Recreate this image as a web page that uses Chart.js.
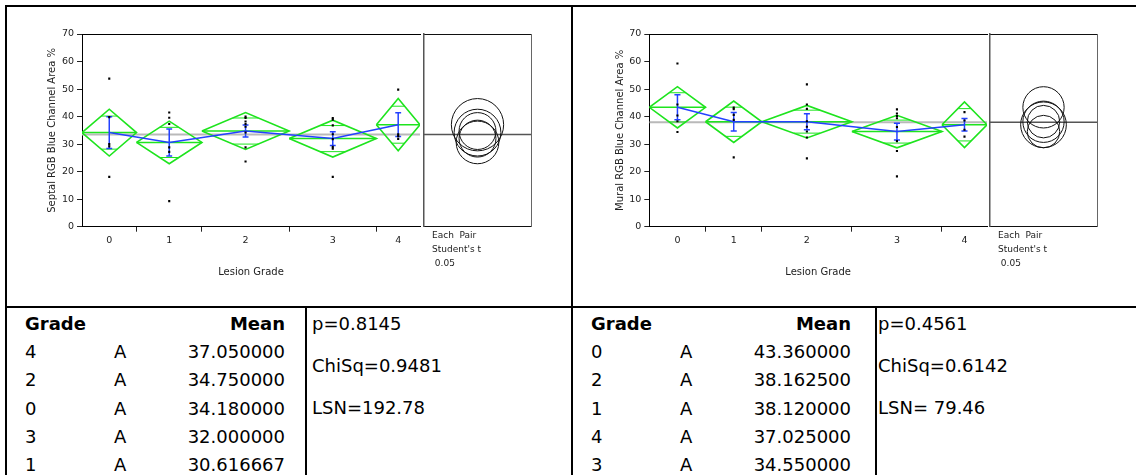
<!DOCTYPE html>
<html>
<head>
<meta charset="utf-8">
<script src="https://cdn.jsdelivr.net/npm/chart.js@4.4.1/dist/chart.umd.min.js"></script>
<style>
html, body { margin: 0; padding: 0; background: #fff; }
#page { position: relative; width: 1136px; height: 475px; overflow: hidden; font-family: 'DejaVu Sans', sans-serif; }
canvas { position: absolute; }
.rule { position: absolute; background: #000; }
.t { position: absolute; font-size: 18px; line-height: 22px; color: #000; white-space: pre; }
.b { font-weight: bold; }
.r { text-align: right; }
.note { position: absolute; font-size: 9px; line-height: 14px; color: #222; white-space: pre; }
</style>
</head>
<body>
<div id="page">
	<canvas id="septal" width="416" height="290" style="left:8px;top:8px"></canvas>
	<canvas id="septalCircles" width="116" height="228" style="left:420px;top:8px"></canvas>
	<canvas id="mural" width="413" height="290" style="left:578px;top:8px"></canvas>
	<canvas id="muralCircles" width="116" height="228" style="left:986px;top:8px"></canvas>
	<div class="note" style="left:432px;top:228px">Each  Pair
Student's t
 0.05</div>
	<div class="note" style="left:998px;top:228px">Each  Pair
Student's t
 0.05</div>
	<div class="rule" style="left:5px;top:5px;width:1131px;height:2px"></div>
	<div class="rule" style="left:5px;top:5px;width:2px;height:470px"></div>
	<div class="rule" style="left:571px;top:5px;width:2px;height:470px"></div>
	<div class="rule" style="left:5px;top:306px;width:1131px;height:2px"></div>
	<div class="rule" style="left:305px;top:306px;width:2px;height:169px"></div>
	<div class="rule" style="left:875px;top:306px;width:2px;height:169px"></div>
	<div id="tables"></div>
</div>
<script>
// values
const grades = ['0', '1', '2', '3', '4'];

const septalPoints = [
	[53.8, 39.8, 30.0, 29.2, 18.1],
	[41.5, 39.6, 37.3, 28.8, 27.2, 9.3],
	[40.0, 39.5, 38.2, 37.3, 36.3, 34.2, 28.8, 23.7],
	[39.5, 38.9, 36.8, 33.6, 31.8, 29.0, 28.3, 18.1],
	[49.8, 33.6, 32.9, 31.9],
];
const septalMeans = [34.18, 30.616667, 34.75, 32.0, 37.05];
const septalCI = [8.5, 7.75, 6.7, 6.7, 9.5];
const septalSE = [5.75, 4.9, 2.2, 2.5, 4.3];
const septalGrandMean = 33.45;

const muralPoints = [
	[59.3, 44.4, 40.4, 38.3, 34.4],
	[43.3, 42.7, 40.6, 38.8, 25.2],
	[51.7, 44.4, 42.8, 38.3, 36.3, 34.6, 32.4, 24.8],
	[42.6, 41.1, 40.2, 39.4, 36.2, 31.1, 27.5, 18.3],
	[41.6, 38.6, 35.2, 32.7],
];
const muralMeans = [43.36, 38.12, 38.1625, 34.55, 37.025];
const muralCI = [7.5, 7.5, 5.9, 5.9, 8.3];
const muralSE = [4.55, 3.4, 2.9, 3.05, 2.25];
const muralGrandMean = 37.9;

const septalRankGrades = ['4', '2', '0', '3', '1'];
const septalRankMeans = ['37.050000', '34.750000', '34.180000', '32.000000', '30.616667'];
const septalStats = ['p=0.8145', 'ChiSq=0.9481', 'LSN=192.78'];
const muralRankGrades = ['0', '2', '1', '4', '3'];
const muralRankMeans = ['43.360000', '38.162500', '38.120000', '37.025000', '34.550000'];
const muralStats = ['p=0.4561', 'ChiSq=0.6142', 'LSN= 79.46'];

const TICK_FONT = { family: "'DejaVu Sans', sans-serif", size: 9.5 };
const TITLE_FONT = { family: "'DejaVu Sans', sans-serif", size: 10 };
const TXT = '#222';
const GREEN = 'rgb(30,228,30)';
const BLUE = 'rgb(35,65,255)';
const NONE = 'rgba(0,0,0,0)';

// turns a list of polylines into one dataset with gaps between them
function segments(lines) {
	const out = [];
	lines.forEach((pts) => {
		pts.forEach(([x, y]) => out.push({ x, y }));
		out.push({ x: pts[pts.length - 1][0], y: null });
	});
	return out;
}

function lineSet(data, color, width) {
	return { data, showLine: true, borderColor: color, borderWidth: width, pointRadius: 0, spanGaps: false };
}

function mainPlot(id, points, means, ci, se, grandMean, yTitle, yAxisWidth, yTitlePad) {
	const bounds = [0];
	points.forEach((p) => bounds.push(bounds[bounds.length - 1] + p.length));
	const total = bounds[bounds.length - 1];
	const centers = points.map((_, i) => (bounds[i] + bounds[i + 1]) / 2);
	const tickValues = bounds.slice(1, -1).concat(centers).sort((a, b) => a - b);

	const outline = [], meanMarks = [], overlap = [], bars = [];
	const cap = 0.27;
	points.forEach((_, i) => {
		const x0 = bounds[i], x1 = bounds[i + 1], xc = centers[i];
		const m = means[i], h = ci[i];
		outline.push([[x0, m], [xc, m + h], [x1, m], [xc, m - h], [x0, m]]);
		meanMarks.push([[x0, m], [x1, m]]);
		const k = h / Math.SQRT2;
		const hw = (x1 - x0) / 2 * (1 - 1 / Math.SQRT2);
		overlap.push([[xc - hw, m + k], [xc + hw, m + k]]);
		overlap.push([[xc - hw, m - k], [xc + hw, m - k]]);
		bars.push([[xc, m - se[i]], [xc, m + se[i]]]);
		bars.push([[xc - cap, m + se[i]], [xc + cap, m + se[i]]]);
		bars.push([[xc - cap, m - se[i]], [xc + cap, m - se[i]]]);
	});

	const dots = [];
	points.forEach((p, i) => p.forEach((v) => dots.push({ x: centers[i], y: v })));

	const datasets = [
		{ data: dots, pointStyle: 'rect', pointRadius: 1.5, pointBorderWidth: 0, backgroundColor: '#000', borderColor: '#000' },
		lineSet(segments(bars), BLUE, 1.5),
		lineSet(centers.map((x, i) => ({ x, y: means[i] })), BLUE, 1.5),
		lineSet(segments(overlap), GREEN, 1),
		lineSet(segments(meanMarks), GREEN, 1.5),
		lineSet(segments(outline), GREEN, 1.6),
		lineSet([{ x: 0, y: grandMean }, { x: total, y: grandMean }], 'rgb(185,185,185)', 2),
	];

	new Chart(document.getElementById(id), {
		type: 'scatter',
		data: { datasets },
		options: {
			responsive: false,
			animation: false,
			events: [],
			layout: { padding: { top: 26, left: 0, right: 0, bottom: 0 } },
			plugins: { legend: { display: false }, tooltip: { enabled: false } },
			scales: {
				x: {
					type: 'linear', position: 'bottom', min: 0, max: total,
					afterFit: (s) => { s.height = 71.3; },
					afterBuildTicks: (s) => { s.ticks = tickValues.map((v) => ({ value: v })); },
					ticks: {
						autoSkip: false, maxRotation: 0, padding: 3, color: TXT, font: TICK_FONT,
						callback: (v) => { const i = centers.indexOf(v); return i >= 0 ? grades[i] : ''; },
					},
					grid: {
						drawOnChartArea: false, drawTicks: true, tickLength: 5,
						color: NONE,
						tickColor: (ctx) => (ctx.tick && centers.includes(ctx.tick.value) ? NONE : '#222'),
					},
					border: { color: '#000', width: 1 },
					title: { display: true, text: 'Lesion Grade', color: TXT, font: TITLE_FONT, padding: { top: 0, bottom: 20 } },
				},
				x2: {
					type: 'linear', position: 'top', min: 0, max: total,
					afterFit: (s) => { s.height = 0; },
					ticks: { display: false },
					grid: { drawOnChartArea: false, drawTicks: false, color: NONE },
					border: { color: '#000', width: 1 },
				},
				y: {
					type: 'linear', position: 'left', min: 0, max: 70,
					afterFit: (s) => { s.width = yAxisWidth; },
					ticks: { stepSize: 10, padding: 3, color: TXT, font: TICK_FONT },
					grid: { drawOnChartArea: false, tickLength: 5, tickColor: '#222' },
					border: { color: '#000', width: 1 },
					title: { display: true, text: yTitle, color: TXT, font: TITLE_FONT, padding: { top: yTitlePad, bottom: 0 } },
				},
			},
		},
	});
}

function circlePanel(id, means, ci, grandMean) {
	const hidden = (pos, axis) => ({
		type: 'linear', position: pos, min: 0, max: axis === 'x' ? 1 : 70,
		afterFit: (s) => { if (axis === 'x') s.height = 0; else s.width = 0; },
		ticks: { display: false },
		grid: { drawOnChartArea: false, drawTicks: false, color: NONE },
		border: { color: '#111', width: 1 },
	});
	const scales = {
		x: hidden('bottom', 'x'),
		x2: hidden('top', 'x'),
		y: hidden('left', 'y'),
		y2: hidden('right', 'y'),
	};
	scales.y.border = { color: '#555', width: 1.5 };
	scales.y2.border = { color: '#666', width: 1 };

	new Chart(document.getElementById(id), {
		type: 'scatter',
		data: {
			datasets: [
				{
					data: means.map((m) => ({ x: 0.5, y: m })),
					pointStyle: 'circle',
					pointRadius: (ctx) => {
						const y = ctx.chart.scales.y;
						return ci[ctx.dataIndex] * (y.getPixelForValue(0) - y.getPixelForValue(1));
					},
					borderColor: '#111',
					backgroundColor: NONE,
					borderWidth: 1,
				},
				lineSet([{ x: 0, y: grandMean }, { x: 1, y: grandMean }], '#555', 1.5),
			],
		},
		options: {
			responsive: false,
			animation: false,
			events: [],
			layout: { padding: { left: 4, right: 5, top: 26, bottom: 9.3 } },
			plugins: { legend: { display: false }, tooltip: { enabled: false } },
			scales,
		},
	});
}

function tableBlock(x0, rankGrades, rankMeans, stats) {
	const host = document.getElementById('tables');
	const add = (cls, left, top, text, width) => {
		const d = document.createElement('div');
		d.className = 't ' + cls;
		d.style.left = left + 'px';
		d.style.top = top + 'px';
		if (width) d.style.width = width + 'px';
		d.textContent = text;
		host.appendChild(d);
	};
	const rowTop = (i) => 323.5 + 28.2 * i - 10.6;
	add('b', x0 + 20, rowTop(0), 'Grade');
	add('b r', x0 + 140, rowTop(0), 'Mean', 140);
	rankGrades.forEach((g, i) => {
		add('', x0 + 20, rowTop(i + 1), g);
		add('', x0 + 109, rowTop(i + 1), 'A');
		add('r', x0 + 140, rowTop(i + 1), rankMeans[i], 140);
	});
	[323.5, 366, 408].forEach((c, i) => add('', x0 + 307, c - 10.6, stats[i]));
}

mainPlot('septal', septalPoints, septalMeans, septalCI, septalSE, septalGrandMean,
	'Septal RGB Blue Channel Area %', 74, 38.3);
circlePanel('septalCircles', septalMeans, septalCI, septalGrandMean);
mainPlot('mural', muralPoints, muralMeans, muralCI, muralSE, muralGrandMean,
	'Mural RGB Blue Channel Area %', 71.3, 36.0);
circlePanel('muralCircles', muralMeans, muralCI, muralGrandMean);

tableBlock(5, septalRankGrades, septalRankMeans, septalStats);
tableBlock(571, muralRankGrades, muralRankMeans, muralStats);
</script>
</body>
</html>
